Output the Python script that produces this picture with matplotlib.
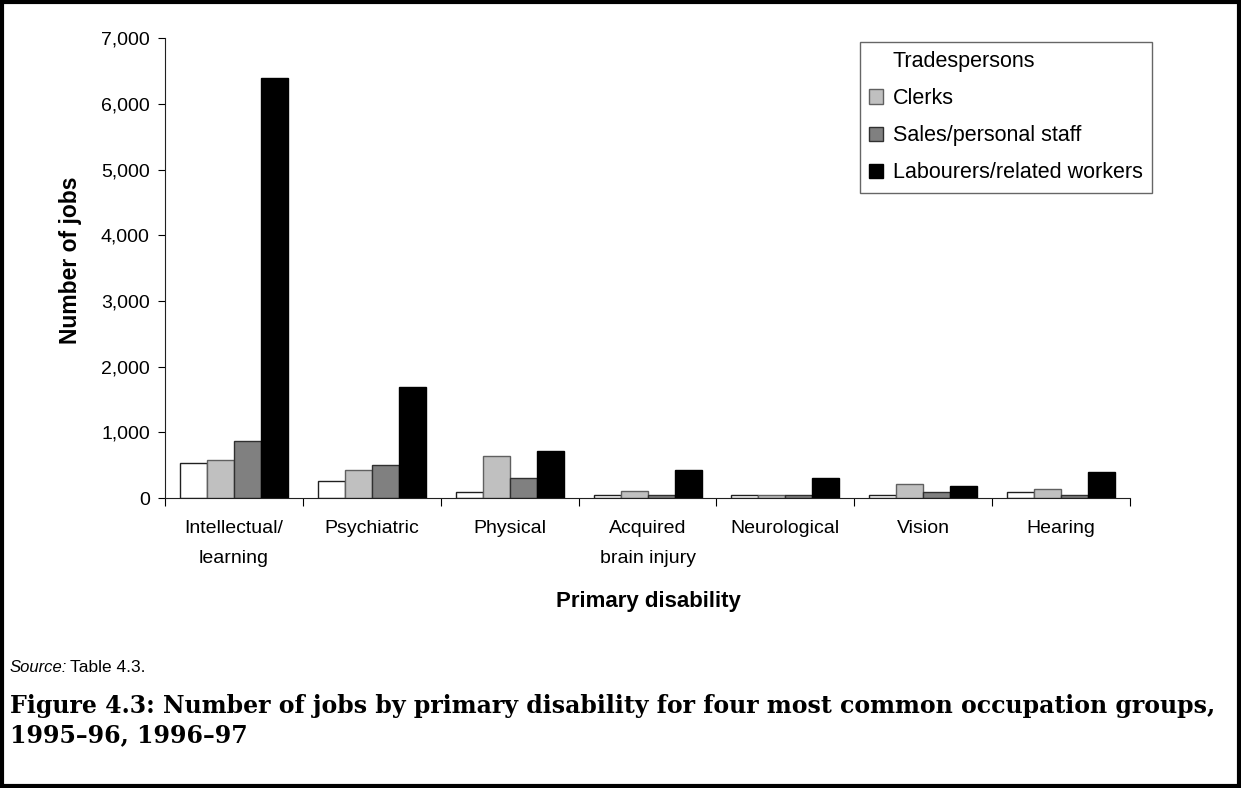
import matplotlib
matplotlib.use("Agg")
from matplotlib import pyplot as plt
from matplotlib.patches import Rectangle
from matplotlib.ticker import FuncFormatter, FixedLocator
import numpy as np

# data
categories = ["Intellectual/\nlearning", "Psychiatric", "Physical", "Acquired\nbrain injury",
              "Neurological", "Vision", "Hearing"]
tradespersons = [540, 260, 90, 50, 50, 50, 90]
clerks = [580, 420, 640, 100, 50, 210, 130]
sales_staff = [870, 510, 300, 50, 50, 90, 50]
labourers = [6400, 1690, 715, 430, 300, 180, 400]

series_names = ["Tradespersons", "Clerks", "Sales/personal staff", "Labourers/related workers"]
fills = ["white", "#c0c0c0", "#808080", "black"]
edges = ["#202020", "#606060", "#303030", "black"]

plt.rcParams['font.family'] = ['Liberation Sans', 'DejaVu Sans']

fig = plt.figure(figsize=(12.41, 7.88), dpi=100)
ax = fig.add_axes([0.133, 0.368, 0.7776, 0.5835])

x = np.arange(len(categories))
w = 0.196
all_series = [tradespersons, clerks, sales_staff, labourers]
for i, vals in enumerate(all_series):
    ax.bar(x + (i - 1.5) * w, vals, w, color=fills[i], edgecolor=edges[i],
           linewidth=1.0, label=series_names[i])

ax.set_xlim(-0.5, len(categories) - 0.5)
ax.set_ylim(0, 7000)
ax.set_yticks(range(0, 7001, 1000))
ax.yaxis.set_major_formatter(FuncFormatter(lambda v, p: f"{int(v):,}"))
ax.set_xticks(x)
ax.set_xticklabels(categories, fontsize=14, linespacing=1.95)
ax.xaxis.set_minor_locator(FixedLocator(np.arange(-0.5, len(categories), 1.0)))
ax.tick_params(axis='x', which='major', length=0, pad=16)
ax.tick_params(axis='x', which='minor', length=6, width=0.8, direction='out')
ax.tick_params(axis='y', length=5, width=0.8, labelsize=14, pad=6)
for s in ['top', 'right']:
    ax.spines[s].set_visible(False)
for s in ['left', 'bottom']:
    ax.spines[s].set_linewidth(0.8)
    ax.spines[s].set_color('#202020')

ax.set_ylabel("Number of jobs", fontsize=16.5, fontweight='bold')
ax.yaxis.set_label_coords(-0.086, 0.517)

leg = ax.legend(loc='upper left', bbox_to_anchor=(860 / 1241, 1 - 42 / 788),
                bbox_transform=fig.transFigure, frameon=True, fancybox=False,
                fontsize=15.5, handlelength=0.65, handleheight=0.65, handletextpad=0.45,
                labelspacing=0.75, borderpad=0.42, borderaxespad=0)
leg.get_frame().set_edgecolor('#404040')
leg.get_frame().set_linewidth(1.0)
leg.legend_handles[0].set_edgecolor('white')

fig.text(648 / 1241, 1 - 601 / 788, "Primary disability", ha='center', va='center',
         fontsize=16, fontweight='bold')

fig.text(10 / 1241, 1 - 667 / 788, "Source:", ha='left', va='center', fontsize=12, style='italic')
fig.text(70 / 1241, 1 - 667 / 788, "Table 4.3.", ha='left', va='center', fontsize=12.5)

cap = ("Figure 4.3: Number of jobs by primary disability for four most common occupation groups,\n"
       "1995\u201396, 1996\u201397")
fig.text(10 / 1241, 1 - 694 / 788, cap, ha='left', va='top', fontsize=17, fontweight='bold',
         family=['DejaVu Serif'], linespacing=1.25)

fig.patches.append(Rectangle((0.002, 0.003), 0.996, 0.994, transform=fig.transFigure,
                             fill=False, edgecolor='black', linewidth=3))

fig.savefig("out.png", dpi=100)
